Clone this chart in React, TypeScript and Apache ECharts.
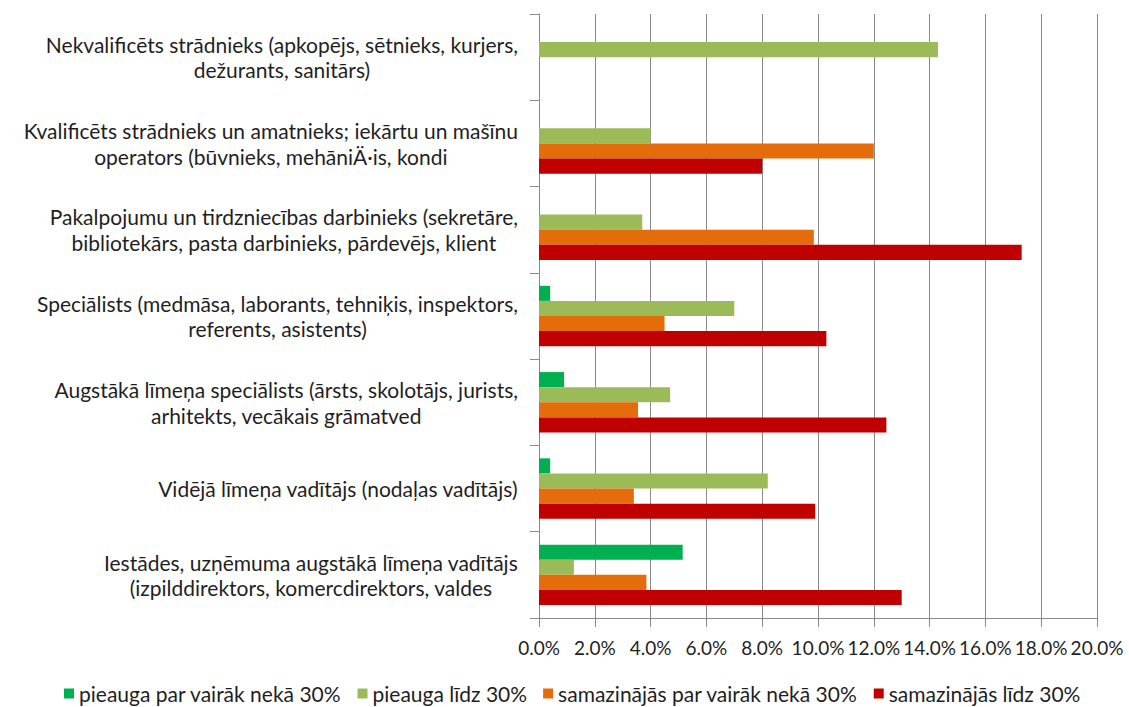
import React, { useEffect, useRef } from "react";
import * as echarts from "echarts";

const categories = [
  "Nekvalificēts strādnieks (apkopējs, sētnieks, kurjers,\ndežurants, sanitārs)",
  "Kvalificēts strādnieks un amatnieks; iekārtu un mašīnu\noperators (būvnieks, mehāniÄ·is, kondi",
  "Pakalpojumu un tirdzniecības darbinieks (sekretāre,\nbibliotekārs, pasta darbinieks, pārdevējs, klient",
  "Speciālists (medmāsa, laborants, tehniķis, inspektors,\nreferents, asistents)",
  "Augstākā līmeņa speciālists (ārsts, skolotājs, jurists,\narhitekts, vecākais grāmatved",
  "Vidējā līmeņa vadītājs (nodaļas vadītājs)",
  "Iestādes, uzņēmuma augstākā līmeņa vadītājs\n(izpilddirektors, komercdirektors, valdes",
];

const seriesNames = [
  "pieauga par vairāk nekā 30%",
  "pieauga līdz 30%",
  "samazinājās par vairāk nekā 30%",
  "samazinājās līdz 30%",
];

const increasedOver30 = [0, 0, 0, 0.4, 0.9, 0.4, 5.15];
const increasedUpTo30 = [14.3, 4.0, 3.7, 7.0, 4.7, 8.2, 1.25];
const decreasedOver30 = [0, 12.0, 9.85, 4.5, 3.55, 3.4, 3.85];
const decreasedUpTo30 = [0, 8.0, 17.3, 10.3, 12.45, 9.9, 13.0];

const colors = ["#00B050", "#9BBB59", "#E46C0A", "#C00000"];

const FONT = "Lato";
const TEXT = "#1f1f1f";
const GRAY = "#8a8a8a";

export default function App() {
  const ref = useRef<HTMLDivElement>(null);

  useEffect(() => {
    if (!ref.current) return;
    const chart = echarts.init(ref.current, undefined, { renderer: "svg" });
    const values = [increasedOver30, increasedUpTo30, decreasedOver30, decreasedUpTo30];
    chart.setOption({
      animation: false,
      textStyle: { fontFamily: FONT },
      grid: { left: 539, right: 32, top: 14, bottom: 89, containLabel: false },
      legend: {
        data: seriesNames,
        left: 64,
        top: 681,
        padding: 0,
        icon: "rect",
        itemWidth: 10,
        itemHeight: 10,
        itemGap: 16,
        textStyle: { fontFamily: FONT, fontSize: 21, color: TEXT, lineHeight: 25 },
      },
      xAxis: {
        type: "value",
        min: 0,
        max: 20,
        interval: 2,
        axisLine: { show: true, lineStyle: { color: GRAY, width: 1 } },
        axisTick: { show: true, length: 9, lineStyle: { color: GRAY } },
        splitLine: { show: true, lineStyle: { color: GRAY, width: 1 } },
        axisLabel: {
          formatter: (v: number) => v.toFixed(1) + "%",
          fontFamily: FONT,
          fontSize: 19,
          color: TEXT,
          margin: 20,
          hideOverlap: false,
        },
      },
      yAxis: {
        type: "category",
        inverse: true,
        data: categories,
        axisLine: { show: true, lineStyle: { color: GRAY, width: 1 } },
        axisTick: { show: true, length: 9, lineStyle: { color: GRAY } },
        splitLine: { show: false },
        axisLabel: {
          margin: 21,
          align: "right",
          formatter: (v: string) =>
            v
              .split("\n")
              .map((l) => `{c|${l}}`)
              .join("\n"),
          rich: {
            c: {
              align: "center",
              fontFamily: FONT,
              fontSize: 21,
              lineHeight: 25.5,
              color: TEXT,
            },
          },
        },
      },
      series: seriesNames.map((name, i) => ({
        name,
        type: "bar",
        data: values[i],
        barGap: "0%",
        barCategoryGap: "30%",
        itemStyle: { color: colors[i] },
      })),
    });
    return () => chart.dispose();
  }, []);

  return (
    <div
      ref={ref}
      style={{ position: "absolute", left: 0, top: 0, width: 1129, height: 707, background: "#fff" }}
    />
  );
}
